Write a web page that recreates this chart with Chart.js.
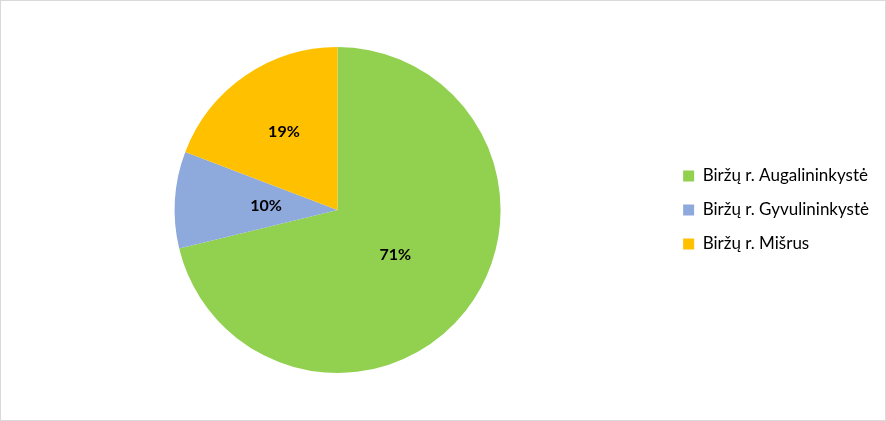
<!DOCTYPE html>
<html>
<head>
<meta charset="utf-8">
<script src="https://cdn.jsdelivr.net/npm/chart.js@4"></script>
<style>
  html, body { margin: 0; padding: 0; background: #fff; }
  #wrap { width: 886px; height: 421px; box-sizing: border-box; border: 1px solid #d9d9d9; position: relative; }
  canvas { display: block; }
</style>
</head>
<body>
<div id="wrap"><canvas id="myChart" width="884" height="419"></canvas></div>
<script>
'use strict';

const labels = ['Biržų r. Augalininkystė', 'Biržų r. Gyvulininkystė', 'Biržų r. Mišrus'];
const shares = [71.2, 9.6, 19.2];
const colors = ['#92D050', '#8EA9DB', '#FFC000'];

// how far out (fraction of radius) each % label sits
const labelDist = [0.45, 0.44, 0.58];

// percent labels inside the slices
const pctLabels = {
    id: 'pctLabels',
    afterDatasetsDraw(chart) {
        const ctx = chart.ctx;
        const meta = chart.getDatasetMeta(0);
        const total = shares.reduce((a, b) => a + b, 0);
        ctx.save();
        ctx.font = 'bold 16px Lato';
        ctx.fillStyle = '#000';
        ctx.textAlign = 'center';
        ctx.textBaseline = 'middle';
        meta.data.forEach((arc, i) => {
            const p = arc.getProps(['x', 'y', 'startAngle', 'endAngle', 'outerRadius']);
            const mid = (p.startAngle + p.endAngle) / 2;
            const r = p.outerRadius * labelDist[i];
            const txt = Math.round(shares[i] / total * 100) + '%';
            ctx.fillText(txt, p.x + Math.cos(mid) * r, p.y + Math.sin(mid) * r);
        });
        ctx.restore();
    }
};

new Chart(document.getElementById('myChart'), {
    type: 'pie',
    data: {
        labels: labels,
        datasets: [{
            data: shares,
            backgroundColor: colors,
            borderWidth: 0
        }]
    },
    options: {
        responsive: false,
        animation: false,
        layout: { padding: { top: 46, bottom: 47, left: 8, right: 6 } },
        plugins: {
            legend: {
                position: 'right',
                labels: {
                    boxWidth: 11,
                    boxHeight: 11,
                    padding: 17,
                    color: '#000',
                    font: { family: 'Lato', size: 17 }
                }
            },
            tooltip: { enabled: false }
        }
    },
    plugins: [pctLabels]
});
</script>
</body>
</html>
